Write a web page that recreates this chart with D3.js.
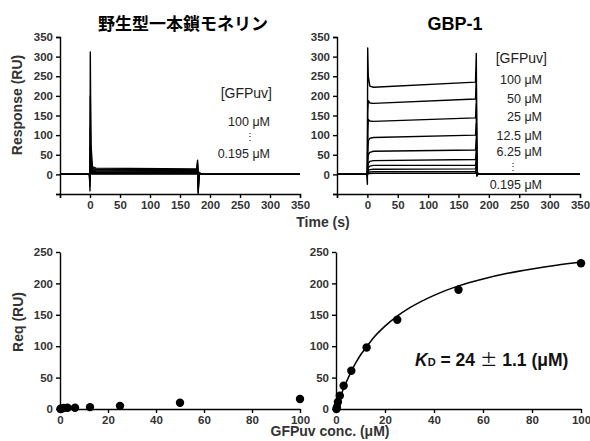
<!DOCTYPE html>
<html>
<head>
<meta charset="utf-8">
<script src="https://cdn.jsdelivr.net/npm/d3@7"></script>
<style>
  body { margin: 0; background: #fff; }
  svg { display: block; font-family: "Liberation Sans", Arial, sans-serif; }
  .tick text { font-size: 11.5px; font-weight: bold; fill: #333; }
  .domain, .tick line { stroke: #000; stroke-width: 1.4; }
</style>
</head>
<body>
<div id="chart"></div>
<script>
// sensorgram sample times (s)
const senTimes = [-50, -1, 0, 0.5, 1.5, 4, 10, 178, 179.3, 180.3, 182, 186, 350];
const concLabels = ['100', '50', '25', '12.5', '6.25', '3.125', '1.5625', '0.78', '0.39', '0.195'];

// wild-type single-chain monellin, response (RU) at senTimes
const monellinTraces = [
  [0, 0, -42, 312, 80, 20, 16, 14, 36, -50, 5, 0, 0],
  [0, 0, -30, 200, 50, 15, 13, 12, 30, -45, 4, 0, 0],
  [0, 0, -20, 120, 30, 12, 11, 10, 25, -40, 3, 0, 0],
  [0, 0, -12, 70, 20, 10, 9, 8, 20, -30, 2, 0, 0],
  [0, 0, -8, 40, 14, 8, 7, 6, 15, -20, 1, 0, 0],
  [0, 0, -5, 25, 10, 6, 5, 5, 10, -12, 1, 0, 0],
  [0, 0, -3, 15, 7, 5, 4, 4, 7, -8, 0, 0, 0],
  [0, 0, -2, 10, 5, 3, 3, 3, 5, -5, 0, 0, 0],
  [0, 0, -1, 6, 3, 2, 2, 2, 3, -3, 0, 0, 0],
  [0, 0, 0, 3, 2, 1, 1, 1, 2, -2, 0, 0, 0]
];

// GBP-1, response (RU) at senTimes
const gbpTraces = [
  [0, 0, -25, 322, 250, 225, 222, 235, 308, -5, 3, 0, 0],
  [0, 0, -5, 160, 188, 182, 181, 192, 240, -3, 1, 0, 0],
  [0, 0, -3, 110, 140, 136, 135, 144, 180, -2, 1, 0, 0],
  [0, 0, -2, 60, 85, 92, 94, 100, 130, -2, 1, 0, 0],
  [0, 0, -1, 35, 50, 56, 59, 62, 90, -1, 0, 0, 0],
  [0, 0, -1, 18, 28, 33, 35, 38, 60, -1, 0, 0, 0],
  [0, 0, 0, 10, 17, 21, 23, 23, 40, 0, 0, 0, 0],
  [0, 0, 0, 5, 10, 12, 13, 14, 25, 0, 0, 0, 0],
  [0, 0, 0, 3, 5, 6, 7, 7, 15, 0, 0, 0, 0],
  [0, 0, 0, 1, 2, 2, 3, 3, 8, 0, 0, 0, 0]
];

// equilibrium responses
const concs = [0.195, 0.39, 0.78, 1.5625, 3.125, 6.25, 12.5, 25, 50, 100];
const monellinReq = [0, 0.5, 1, 1.5, 2, 2, 3, 5, 10, 16];
const gbpReq = [0, 3, 11, 21, 37, 61, 98, 142, 190, 232];

// fitted curve for GBP-1
const fitConc = [0, 1, 2, 4, 6, 8, 10, 12.5, 15, 20, 25, 30, 40, 50, 60, 70, 80, 90, 100];
const fitReq = [0, 11.6, 22, 41, 58, 73, 86, 99, 112, 132, 148, 161, 181, 196, 207, 216, 223, 229, 234];

const senYTicks = [-50, 0, 50, 100, 150, 200, 250, 300, 350];
const senXTicks = [-50, 0, 50, 100, 150, 200, 250, 300, 350];
const reqYTicks = [0, 50, 100, 150, 200, 250];
const reqXTicks = [0, 20, 40, 60, 80, 100];

const W = 590, H = 441;
const svg = d3.select('#chart').append('svg').attr('width', W).attr('height', H);

const senY = d3.scaleLinear().domain([-50, 350]).range([194, 37]);
const reqY = d3.scaleLinear().domain([0, 250]).range([409, 252]);

function senPanel(x0, x1, traces) {
    const x = d3.scaleLinear().domain([-50, 350]).range([x0, x1]);
    const g = svg.append('g');
    const line = d3.line().x((d, i) => x(senTimes[i])).y(d => senY(d));
    g.append('g').selectAll('path').data(traces).join('path')
        .attr('d', line)
        .attr('fill', 'none')
        .attr('stroke', '#000')
        .attr('stroke-width', 1.4)
        .attr('stroke-linejoin', 'round');
    g.append('g').attr('transform', `translate(${x0},0)`)
        .call(d3.axisLeft(senY).tickValues(senYTicks).tickSize(4).tickPadding(3)
            .tickFormat(d => d < 0 ? '' : d));
    g.append('g').attr('transform', `translate(0,${senY(-50)})`)
        .call(d3.axisBottom(x).tickValues(senXTicks).tickSize(4).tickPadding(3)
            .tickFormat(d => d < 0 ? '' : d));
    return g;
}

function reqPanel(x0, x1, values, fit) {
    const x = d3.scaleLinear().domain([0, 100]).range([x0, x1]);
    const g = svg.append('g');
    g.append('g').attr('transform', `translate(${x0},0)`)
        .call(d3.axisLeft(reqY).tickValues(reqYTicks).tickSize(4).tickPadding(3).tickSizeOuter(0));
    g.append('g').attr('transform', `translate(0,${reqY(0)})`)
        .call(d3.axisBottom(x).tickValues(reqXTicks).tickSize(4).tickPadding(3).tickSizeOuter(0));
    if (fit) {
        g.append('path')
            .datum(fitConc)
            .attr('d', d3.line().curve(d3.curveMonotoneX).x(d => x(d)).y((d, i) => reqY(fitReq[i])))
            .attr('fill', 'none')
            .attr('stroke', '#000')
            .attr('stroke-width', 1.5);
    }
    g.append('g').selectAll('circle').data(values).join('circle')
        .attr('cx', (d, i) => x(concs[i]))
        .attr('cy', d => reqY(d))
        .attr('r', 4.2)
        .attr('fill', '#000');
    return g;
}

senPanel(60, 300, monellinTraces);
senPanel(337, 580, gbpTraces);
reqPanel(60, 300, monellinReq, false);
reqPanel(336, 581, gbpReq, true);

// titles
svg.append('text').attr('x', 183).attr('y', 30).attr('text-anchor', 'middle')
    .style('font-family', '"Noto Sans CJK JP", sans-serif')
    .style('font-size', '17px').style('font-weight', 'bold')
    .text('野生型一本鎖モネリン');
svg.append('text').attr('x', 455).attr('y', 30).attr('text-anchor', 'middle')
    .style('font-size', '18px').style('font-weight', 'bold')
    .text('GBP-1');

// axis titles
const axisTitle = (txt, x, y, rot) => svg.append('text')
    .attr('transform', `translate(${x},${y}) rotate(${rot})`)
    .attr('text-anchor', 'middle').attr('dy', '0.35em')
    .style('font-size', '14px').style('font-weight', 'bold').style('fill', '#333')
    .text(txt);
axisTitle('Response (RU)', 17, 105, -90);
axisTitle('Req (RU)', 18, 322, -90);
axisTitle('Time (s)', 323, 222, 0);
axisTitle('GFPuv conc. (μM)', 330, 431, 0);

// legends
const legend = (txt, x, y, size) => svg.append('text')
    .attr('x', x).attr('y', y).attr('dy', '0.35em').attr('text-anchor', 'end')
    .style('font-size', size + 'px').style('fill', '#222')
    .text(txt);
legend('[GFPuv]', 272, 93, 14);
legend('100 μM', 270, 122, 12.5);
legend('⋮', 255, 136, 10);
legend('0.195 μM', 270, 154, 12.5);

legend('[GFPuv]', 547, 58, 14);
const rightLegend = ['100', '50', '25', '12.5', '6.25'];
const rightLegendY = [80, 99, 117, 136, 152];
rightLegend.forEach((c, i) => legend(c + ' μM', 542, rightLegendY[i], 12.5));
legend('⋮', 518, 166, 10);
legend('0.195 μM', 542, 185, 12.5);

// KD annotation
const kd = svg.append('text').attr('x', 415).attr('y', 366)
    .style('font-size', '17.5px').style('font-weight', 'bold').style('fill', '#111');
kd.append('tspan').style('font-style', 'italic').text('K');
kd.append('tspan').style('font-size', '11px').text('D');
kd.append('tspan').text(' = 24 ');
kd.append('tspan').style('font-family', '"Noto Sans CJK JP", sans-serif').style('font-weight', 'normal').text('±');
kd.append('tspan').text(' 1.1 (μM)');
</script>
</body>
</html>
